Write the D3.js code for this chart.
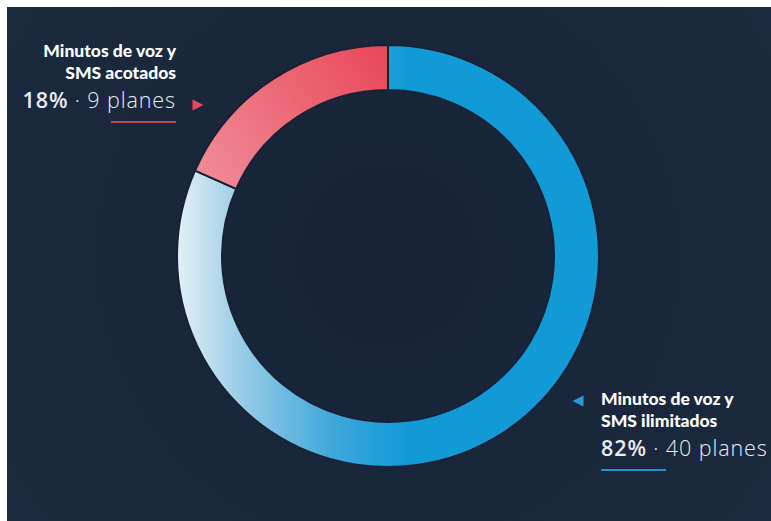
<!DOCTYPE html>
<html>
<head>
<meta charset="utf-8">
<script src="https://cdn.jsdelivr.net/npm/d3@7"></script>
<style>
  html, body { margin: 0; padding: 0; background: #ffffff; }
  svg { display: block; }
</style>
</head>
<body>
<script>
// Plan counts per category
const categories = ["Minutos de voz y SMS ilimitados", "Minutos de voz y SMS acotados"];
const titleLines = [["Minutos de voz y", "SMS ilimitados"], ["Minutos de voz y", "SMS acotados"]];
const planCounts = [40, 9];
const percentLabels = ["82%", "18%"];
const planLabels = ["· 40 planes", "· 9 planes"];

const W = 771, H = 521;
const cx = 388, cy = 256;
const outerR = 211, innerR = 166;

const svg = d3.select("body").append("svg")
  .attr("width", W).attr("height", H);

const defs = svg.append("defs");

// Background panel
const bg = defs.append("radialGradient").attr("id", "bg")
  .attr("gradientUnits", "userSpaceOnUse")
  .attr("cx", cx).attr("cy", cy).attr("r", 520);
bg.append("stop").attr("offset", 0).attr("stop-color", "#172236");
bg.append("stop").attr("offset", 1).attr("stop-color", "#1c2b41");

// Gradients are in the donut group's local coordinates (origin at centre)
const gBlue = defs.append("linearGradient").attr("id", "gBlue")
  .attr("gradientUnits", "userSpaceOnUse")
  .attr("x1", -outerR).attr("y1", 0).attr("x2", 20).attr("y2", 0);
gBlue.append("stop").attr("offset", 0).attr("stop-color", "#e4eff5");
gBlue.append("stop").attr("offset", 0.3).attr("stop-color", "#93c9e6");
gBlue.append("stop").attr("offset", 0.7).attr("stop-color", "#3aa6da");
gBlue.append("stop").attr("offset", 1).attr("stop-color", "#119ad6");

const gRed = defs.append("linearGradient").attr("id", "gRed")
  .attr("gradientUnits", "userSpaceOnUse")
  .attr("x1", -190).attr("y1", -80).attr("x2", 0).attr("y2", -outerR);
gRed.append("stop").attr("offset", 0).attr("stop-color", "#f08c96");
gRed.append("stop").attr("offset", 1).attr("stop-color", "#e8475a");

svg.append("rect").attr("x", 7).attr("y", 7).attr("width", W - 7).attr("height", H - 7)
  .attr("fill", "url(#bg)");

const fills = ["url(#gBlue)", "url(#gRed)"];
const accent = ["#2e8fc4", "#c9405a"];
const arrowColor = ["#2a9ad6", "#e8475a"];

const pie = d3.pie().sort(null).value(d => d);
const arcs = pie(planCounts);
const arc = d3.arc().innerRadius(innerR).outerRadius(outerR);

svg.append("g").attr("transform", `translate(${cx},${cy})`)
  .selectAll("path").data(arcs).join("path")
  .attr("d", arc)
  .attr("fill", (d, i) => fills[i])
  .attr("stroke", "#172236")
  .attr("stroke-width", 2);

// Callout labels
const labels = [
  { x: 601, y: 405, anchor: "start", tri: [578, 401], dir: -1, ulX: 601 },
  { x: 176, y: 57, anchor: "end", tri: [198, 105], dir: 1, ulX: 111 }
];

labels.forEach((L, i) => {
  const g = svg.append("g");
  titleLines[i].forEach((t, j) => {
    g.append("text")
      .attr("x", L.x).attr("y", L.y + j * 22)
      .attr("text-anchor", L.anchor)
      .attr("font-family", "Lato, sans-serif")
      .attr("font-weight", 900)
      .attr("font-size", 17.5)
      .attr("fill", "#ffffff")
      .text(t);
  });
  const pt = g.append("text")
    .attr("x", L.x).attr("y", L.y + 51)
    .attr("text-anchor", L.anchor)
    .attr("font-family", "'Open Sans', sans-serif")
    .attr("font-size", 21.5)
    .attr("letter-spacing", 0.9)
    .attr("fill", "#e9edf2");
  pt.append("tspan").attr("font-weight", 600).text(percentLabels[i]);
  pt.append("tspan").attr("font-weight", 300).text(" " + planLabels[i]);

  g.append("rect")
    .attr("x", L.ulX).attr("y", L.y + 64)
    .attr("width", 65).attr("height", 2)
    .attr("fill", accent[i]);

  const [tx, ty] = L.tri;
  const s = 5.5;
  g.append("path")
    .attr("d", `M${tx + L.dir * s},${ty} L${tx - L.dir * s},${ty - s} L${tx - L.dir * s},${ty + s} Z`)
    .attr("fill", arrowColor[i]);
});
</script>
</body>
</html>
